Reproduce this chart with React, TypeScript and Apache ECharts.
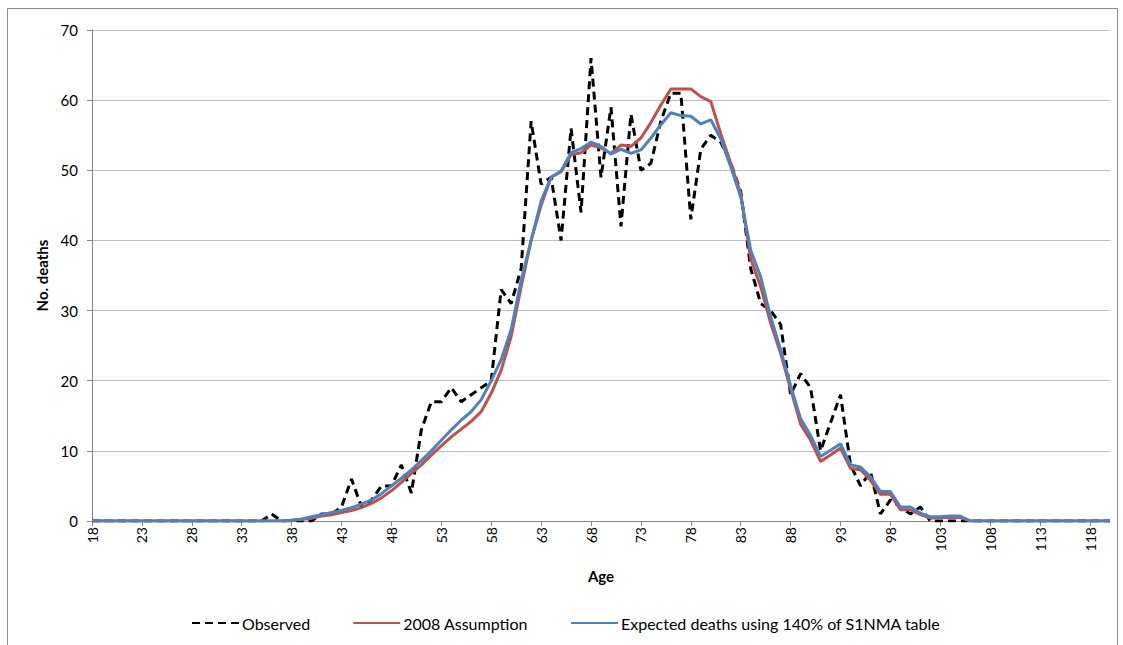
import React, { useEffect, useRef } from "react";
import * as echarts from "echarts";

// Age categories, 18 to 120
const ages = [
  18, 19, 20, 21, 22, 23, 24, 25, 26, 27, 28, 29, 30, 31, 32, 33, 34, 35, 36, 37,
  38, 39, 40, 41, 42, 43, 44, 45, 46, 47, 48, 49, 50, 51, 52, 53, 54, 55, 56, 57,
  58, 59, 60, 61, 62, 63, 64, 65, 66, 67, 68, 69, 70, 71, 72, 73, 74, 75, 76, 77,
  78, 79, 80, 81, 82, 83, 84, 85, 86, 87, 88, 89, 90, 91, 92, 93, 94, 95, 96, 97,
  98, 99, 100, 101, 102, 103, 104, 105, 106, 107, 108, 109, 110, 111, 112, 113, 114, 115, 116, 117,
  118, 119, 120,
];

// Observed deaths by age
const observed = [
  0, 0, 0, 0, 0, 0, 0, 0, 0, 0, 0, 0, 0, 0, 0, 0, 0, 0, 1, 0,
  0, 0, 0, 1, 1, 2, 6, 2, 3, 5, 5, 8, 4, 13, 17, 17, 19, 17, 18, 19,
  20, 33, 31, 36, 57, 48, 49, 40, 56, 44, 66, 49, 59, 42, 58, 50, 51, 57, 61, 61,
  43, 53, 55, 54, 51, 47, 36, 31, 30, 28, 18, 21, 19, 10, 14, 18, 8, 5, 7, 1,
  3, 2, 1, 2, 0, 0, 0, 0, 0, 0, 0, 0, 0, 0, 0, 0, 0, 0, 0, 0,
  0, 0, 0,
];

// 2008 assumption
const assumption2008 = [
  0, 0, 0, 0, 0, 0, 0, 0, 0, 0, 0, 0, 0, 0, 0, 0, 0, 0, 0, 0,
  0.1, 0.2, 0.4, 0.7, 0.9, 1.2, 1.5, 1.9, 2.5, 3.3, 4.3, 5.5, 6.8, 8.0, 9.4, 10.7, 12.0, 13.1, 14.2, 15.6,
  18.2, 21.5, 26.3, 33.4, 40.0, 45.0, 49.0, 49.8, 52.2, 52.5, 53.6, 53.2, 52.4, 53.6, 53.4, 54.6, 56.8, 59.3, 61.6, 61.6,
  61.6, 60.5, 59.8, 55.2, 51.0, 46.7, 37.4, 33.4, 28.2, 23.9, 18.8, 13.8, 11.5, 8.5, 9.4, 10.4, 7.5, 7.3, 5.8, 3.8,
  3.8, 1.6, 1.6, 0.9, 0.4, 0.5, 0.5, 0.5, 0, 0, 0, 0, 0, 0, 0, 0, 0, 0, 0, 0,
  0, 0, 0,
];

// Expected deaths using 140% of S1NMA
const expected140 = [
  0, 0, 0, 0, 0, 0, 0, 0, 0, 0, 0, 0, 0, 0, 0, 0, 0, 0, 0, 0,
  0.1, 0.3, 0.6, 0.9, 1.2, 1.5, 1.9, 2.4, 3.0, 3.9, 5.0, 6.1, 7.3, 8.6, 10.0, 11.5, 13.0, 14.4, 15.6, 17.3,
  20.0, 23.0, 27.3, 34.3, 40.0, 45.6, 49.0, 49.9, 52.5, 53.1, 54.0, 53.4, 52.3, 53.0, 52.4, 52.9, 54.6, 56.5, 58.2, 57.8,
  57.7, 56.6, 57.2, 54.5, 50.5, 46.2, 38.6, 34.8, 29.1, 24.4, 19.3, 14.6, 12.2, 9.2, 10.1, 11.0, 8.0, 7.7, 6.3, 4.2,
  4.2, 2.0, 2.0, 1.1, 0.6, 0.6, 0.7, 0.7, 0, 0, 0, 0, 0, 0, 0, 0, 0, 0, 0, 0,
  0, 0, 0,
];

const FONT = "Lato, 'Open Sans', sans-serif";
const AXIS_GREY = "#868686";

export default function App() {
  const ref = useRef<HTMLDivElement>(null);

  useEffect(() => {
    document.body.style.margin = "0";
    const chart = echarts.init(ref.current!, null, { renderer: "svg" });
    chart.setOption({
      animation: false,
      backgroundColor: "#ffffff",
      textStyle: { fontFamily: FONT },
      graphic: [
        {
          type: "rect",
          z: -1,
          shape: { x: 7.5, y: 8.5, width: 1110, height: 680 },
          style: { fill: "none", stroke: "#8c8c8c", lineWidth: 1 },
        },
      ],
      grid: { left: 92, right: 13, top: 30, bottom: 124 },
      legend: {
        bottom: 9,
        left: 186,
        itemWidth: 47,
        itemHeight: 10,
        itemGap: 42,
        itemStyle: { opacity: 0 },
        textStyle: { fontSize: 16, color: "#000", fontFamily: FONT, padding: [0, 0, 0, -2] },
        data: ["Observed", "2008 Assumption", "Expected deaths using 140% of S1NMA table"],
      },
      xAxis: {
        type: "category",
        data: ages.map(String),
        boundaryGap: false,
        name: "Age",
        nameLocation: "middle",
        nameGap: 47,
        nameTextStyle: { fontSize: 15, fontWeight: "bold", color: "#000", fontFamily: FONT },
        axisLine: { lineStyle: { color: AXIS_GREY, width: 1 } },
        axisTick: { interval: 4, length: 5, lineStyle: { color: AXIS_GREY } },
        axisLabel: { interval: 4, rotate: 90, fontSize: 14, color: "#000", margin: 6, fontFamily: FONT },
        splitLine: { show: false },
      },
      yAxis: {
        type: "value",
        min: 0,
        max: 70,
        interval: 10,
        name: "No. deaths",
        nameLocation: "middle",
        nameGap: 41,
        nameTextStyle: { fontSize: 15, fontWeight: "bold", color: "#000", fontFamily: FONT },
        axisLine: { show: true, lineStyle: { color: AXIS_GREY, width: 1 } },
        axisTick: { show: true, length: 5, lineStyle: { color: AXIS_GREY } },
        axisLabel: { fontSize: 15, color: "#000", margin: 14, fontFamily: FONT },
        splitLine: { lineStyle: { color: "#BEBEBE", width: 1 } },
      },
      series: [
        {
          name: "Observed",
          type: "line",
          data: observed,
          symbol: "none",
          color: "#000000",
          lineStyle: { color: "#000000", width: 3, type: [8, 5] },
        },
        {
          name: "2008 Assumption",
          type: "line",
          data: assumption2008,
          symbol: "none",
          color: "#C0504D",
          lineStyle: { color: "#C0504D", width: 3 },
        },
        {
          name: "Expected deaths using 140% of S1NMA table",
          type: "line",
          data: expected140,
          symbol: "none",
          color: "#4F81BD",
          lineStyle: { color: "#4F81BD", width: 3 },
        },
      ],
    });
    return () => chart.dispose();
  }, []);

  return <div ref={ref} style={{ width: 1123, height: 645, background: "#ffffff" }} />;
}
